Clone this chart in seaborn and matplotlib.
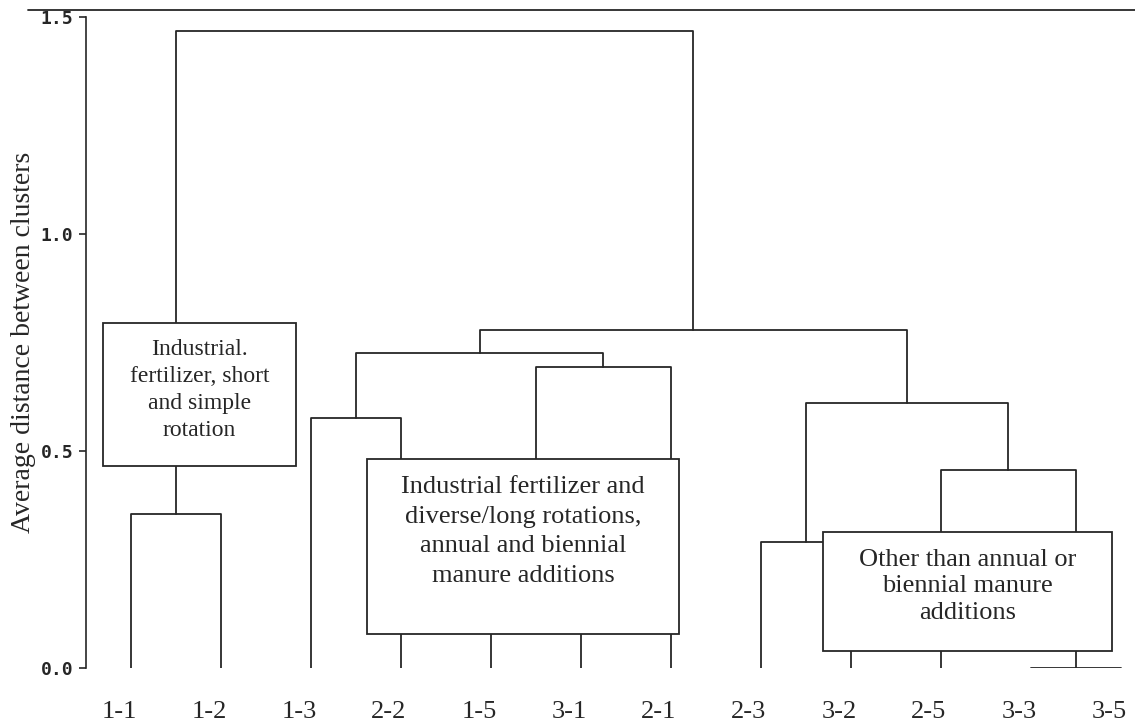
import numpy as np
import pandas as pd
import matplotlib.pyplot as plt
import seaborn as sns
from matplotlib.patches import Rectangle
from matplotlib.lines import Line2D
from matplotlib.transforms import ScaledTranslation

# leaves in dendrogram order
leaf_labels = ['1-1', '1-2', '1-3', '2-2', '1-5', '3-1', '2-1', '2-3', '3-2', '2-5', '3-3', '3-5']

# merges (scipy style: new node ids start at len(leaf_labels))
merge_left = [10, 4, 7, 0, 9, 2, 14, 13, 17, 20, 15]
merge_right = [11, 5, 8, 1, 12, 3, 16, 6, 19, 18, 21]
merge_height = [0.0, 0.25, 0.29, 0.355, 0.456, 0.576, 0.611, 0.694, 0.726, 0.779, 1.468]

y_ticks = [0.0, 0.5, 1.0, 1.5]
y_label = 'Average distance between clusters'

box_texts = [
    'Industrial.\nfertilizer, short\nand simple\nrotation',
    'Industrial fertilizer and\ndiverse/long rotations,\nannual and biennial\nmanure additions',
    'Other than annual or\nbiennial manure\nadditions',
]

# build the U shaped links
n = len(leaf_labels)
pos = {i: float(i) for i in range(n)}
hgt = {i: 0.0 for i in range(n)}
rows = []
for k, (a, b, h) in enumerate(zip(merge_left, merge_right, merge_height)):
    xs = [pos[a], pos[a], pos[b], pos[b]]
    ys = [hgt[a], h, h, hgt[b]]
    for j, (xx, yy) in enumerate(zip(xs, ys)):
        rows.append({'x': xx, 'y': yy, 'link': k, 'order': j})
    pos[n + k] = (pos[a] + pos[b]) / 2
    hgt[n + k] = h
links = pd.DataFrame(rows)

sns.set_style('white')
plt.rcParams['font.family'] = ['Liberation Serif', 'DejaVu Serif']

fig = plt.figure(figsize=(11.35, 7.27), dpi=100)
ax = fig.add_axes([86 / 1135, 59 / 727, 1049 / 1135, 651 / 727])

sns.lineplot(data=links, x='x', y='y', units='link', estimator=None, sort=False,
             color='#262626', linewidth=1.3, ax=ax, legend=False)

ax.set_xlim(-0.5, 11.156)
ax.set_ylim(0, 1.5)

# annotation boxes: x, y, width, height, text y, font size, line spacing
boxes = [(-0.311, 0.465, 2.144, 0.33, 0.64, 17, 1.38),
         (2.622, 0.078, 3.467, 0.403, 0.3145, 19, 1.45),
         (7.689, 0.039, 3.211, 0.274, 0.188, 19, 1.27)]
for (bx, by, bw, bh, ty, fs, ls), txt in zip(boxes, box_texts):
    ax.add_patch(Rectangle((bx, by), bw, bh, facecolor='white', edgecolor='#262626',
                           linewidth=1.3, zorder=5))
    ax.text(bx + bw / 2, ty, txt, ha='center', va='center', fontsize=fs,
            linespacing=ls, zorder=6)

for s in ['top', 'right', 'bottom']:
    ax.spines[s].set_visible(False)
ax.spines['left'].set_color('#262626')
ax.spines['left'].set_linewidth(1.2)

ax.set_xticks(range(n))
ax.set_xticklabels(leaf_labels, fontsize=19)
ax.tick_params(axis='x', length=0, pad=24)
shift = ScaledTranslation(-12 / 100, 0, fig.dpi_scale_trans)
for lab in ax.get_xticklabels():
    lab.set_transform(lab.get_transform() + shift)

ax.set_yticks(y_ticks)
ax.set_yticklabels([f'{v:.1f}' for v in y_ticks], family='DejaVu Sans Mono',
                   fontweight='bold', fontsize=13)
ax.tick_params(axis='y', left=True, length=5, width=1.2, color='#262626', pad=4)

ax.set_xlabel('')
ax.set_ylabel(y_label, fontsize=20)
ax.yaxis.set_label_coords(-0.0477, 0.5)

# page rule across the top
fig.add_artist(Line2D([28 / 1135, 1.0], [717 / 727, 717 / 727], color='#262626',
                      linewidth=1.3))

fig.savefig('out.png', dpi=100)
